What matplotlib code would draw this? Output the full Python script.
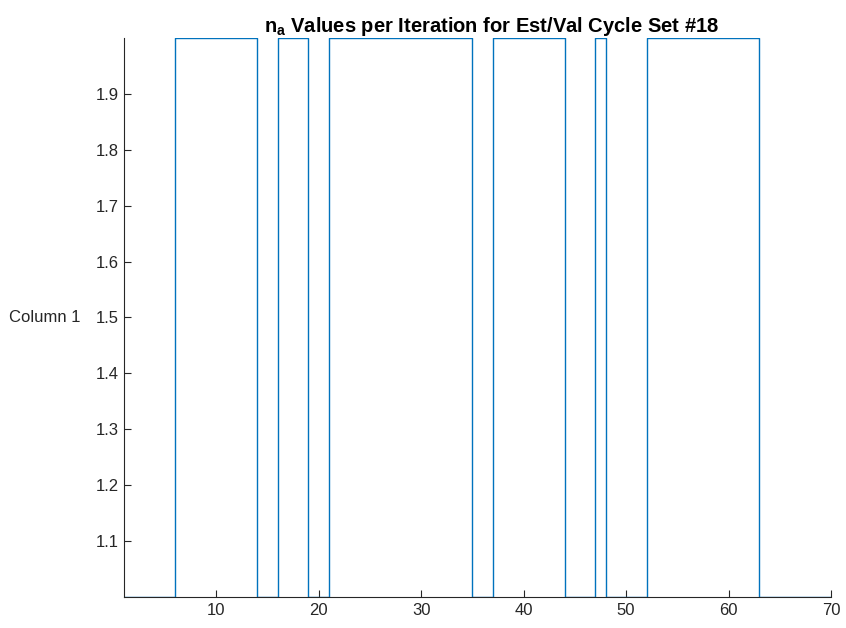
import numpy as np
import matplotlib
matplotlib.use("Agg")
import matplotlib.pyplot as plt

plt.rcParams['font.family'] = ['Liberation Sans', 'DejaVu Sans']
plt.rcParams['mathtext.fontset'] = 'custom'
plt.rcParams['mathtext.rm'] = 'Liberation Sans'
plt.rcParams['mathtext.bf'] = 'Liberation Sans:bold'

# n_a value at each iteration (1..70)
iterations = list(range(1, 71))
n_a = ([1] * 5 + [2] * 8 + [1] * 2 + [2] * 3 + [1] * 2 + [2] * 14 + [1] * 2
       + [2] * 7 + [1] * 3 + [2] * 1 + [1] * 4 + [2] * 11 + [1] * 8)
y_ticks = [1.1, 1.2, 1.3, 1.4, 1.5, 1.6, 1.7, 1.8, 1.9]
x_ticks = [10, 20, 30, 40, 50, 60, 70]

fig = plt.figure(figsize=(8.46, 6.28), dpi=100)
ax = fig.add_axes([0.1466, 0.0494, 0.8357, 0.8901])

ax.step(iterations, n_a, where='post', color='#0072BD', linewidth=1.0)

ax.set_xlim(1, 70)
ax.set_ylim(1, 2)
ax.set_xticks(x_ticks)
ax.set_yticks(y_ticks)
ax.set_yticklabels([f"{v:.1f}" for v in y_ticks])
ax.tick_params(direction='in', length=5, width=0.8, labelsize=12, colors='#262626', pad=4)
for s in ['top', 'right']:
    ax.spines[s].set_visible(False)
for s in ['left', 'bottom']:
    ax.spines[s].set_color('#262626')
    ax.spines[s].set_linewidth(0.8)

ax.set_ylabel('Column 1', rotation=0, fontsize=12, color='#262626')
ax.yaxis.label.set_horizontalalignment('right')
ax.yaxis.label.set_verticalalignment('center')
ax.yaxis.set_label_coords(-0.061, 0.5)
ax.set_title(r'$\mathbf{n}_{\mathbf{a}}$ Values per Iteration for Est/Val Cycle Set #18',
             fontsize=14.5, fontweight='bold', pad=4, x=0.52)

fig.savefig('out.png', dpi=100)
